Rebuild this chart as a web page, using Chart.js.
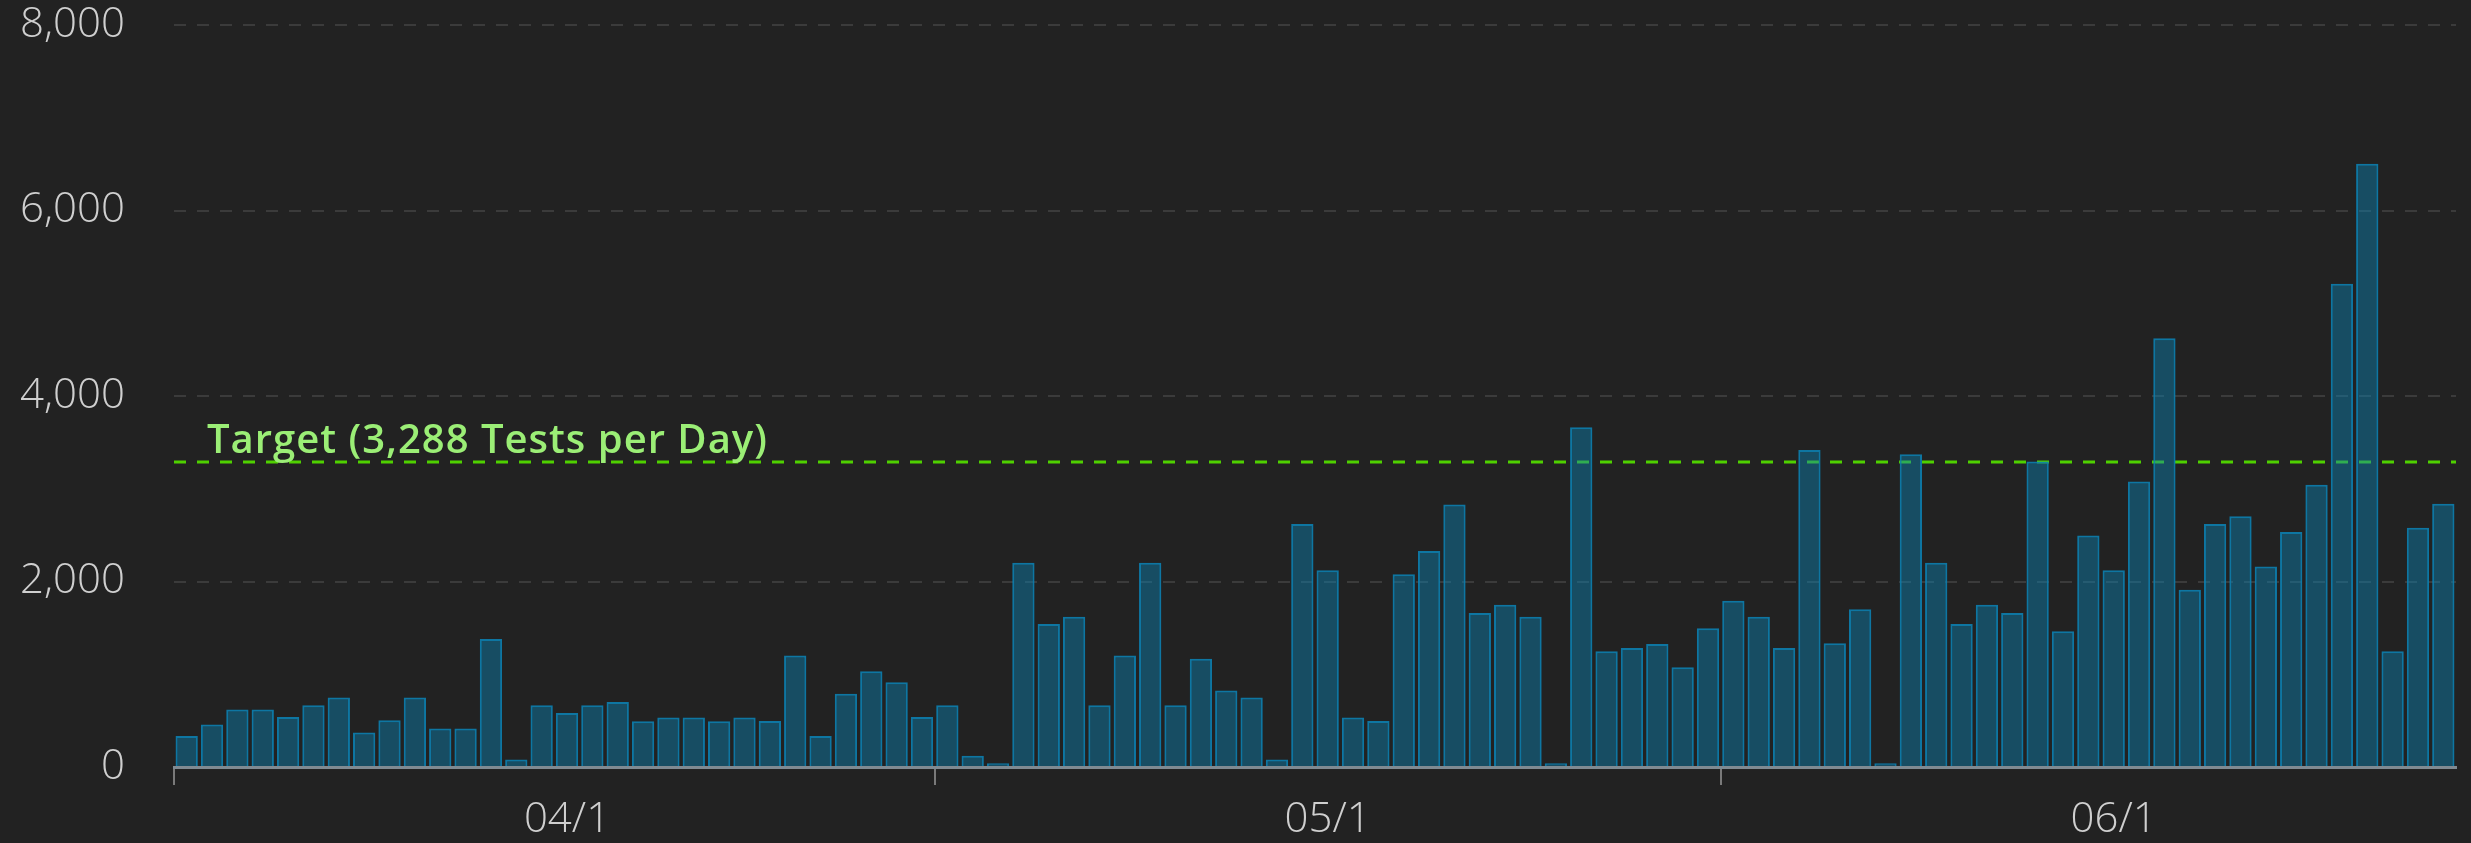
<!DOCTYPE html>
<html><head><meta charset="utf-8">
<script src="https://cdn.jsdelivr.net/npm/chart.js@4.4.0/dist/chart.umd.min.js"></script>
<style>html,body{margin:0;padding:0;background:#222222;overflow:hidden}canvas{display:block}</style>
</head><body>
<canvas id="c" width="2471" height="843"></canvas>
<script>
const dates = [
 '03/17','03/18','03/19','03/20','03/21','03/22','03/23','03/24','03/25','03/26','03/27','03/28','03/29','03/30','03/31',
 '04/01','04/02','04/03','04/04','04/05','04/06','04/07','04/08','04/09','04/10','04/11','04/12','04/13','04/14','04/15',
 '04/16','04/17','04/18','04/19','04/20','04/21','04/22','04/23','04/24','04/25','04/26','04/27','04/28','04/29','04/30',
 '05/01','05/02','05/03','05/04','05/05','05/06','05/07','05/08','05/09','05/10','05/11','05/12','05/13','05/14','05/15',
 '05/16','05/17','05/18','05/19','05/20','05/21','05/22','05/23','05/24','05/25','05/26','05/27','05/28','05/29','05/30','05/31',
 '06/01','06/02','06/03','06/04','06/05','06/06','06/07','06/08','06/09','06/10','06/11','06/12','06/13','06/14'
];
const testsPerDay = [
 333,458,619,619,540,665,748,372,504,748,415,415,1381,80,665,
 583,665,701,494,533,533,494,533,497,1202,333,791,1033,915,540,
 665,121,40,2203,1542,1620,665,1202,2203,665,1166,826,748,82,2621,
 2121,533,497,2078,2328,2829,1660,1749,1620,40,3662,1248,1284,1327,1076,
 1495,1792,1620,1284,3419,1334,1702,40,3373,2203,1542,1749,1660,3294,1463,2496,
 2121,3079,4622,1912,2621,2703,2161,2535,3042,5209,6505,1249,2580,2838
];
const targetValue = 3288;
const targetLabel = 'Target (3,288 Tests per Day)';
const monthTickDates = ['04/01','05/01','06/01'];
const monthTickLabels = ['04/1','05/1','06/1'];
const tickMarkDates = ['03/17','04/16','05/17'];
const yTickValues = [0,2000,4000,6000,8000];

const targetLabelPlugin = {
  id: 'targetLabel',
  afterDatasetsDraw(chart) {
    const {ctx, chartArea, scales} = chart;
    const y = scales.y.getPixelForValue(targetValue);
    ctx.save();
    ctx.font = '600 40px "Open Sans"';
    try { ctx.letterSpacing = '1px'; } catch (e) {}
    ctx.fillStyle = '#9bee76';
    ctx.textAlign = 'left';
    ctx.textBaseline = 'alphabetic';
    ctx.fillText(targetLabel, chartArea.left + 33, y - 9);
    ctx.restore();
  }
};

new Chart(document.getElementById('c'), {
  type: 'bar',
  data: {
    labels: dates,
    datasets: [
      {
        type: 'bar',
        xAxisID: 'x',
        data: testsPerDay,
        grouped: false,
        backgroundColor: 'rgba(10,130,180,0.45)',
        borderColor: 'rgba(12,128,176,0.9)',
        borderWidth: 2,
        barPercentage: 0.88,
        categoryPercentage: 1,
        order: 1
      },
      {
        type: 'line',
        xAxisID: 'xLine',
        data: [{x: -0.5, y: targetValue}, {x: dates.length - 0.5, y: targetValue}],
        borderColor: '#4fd000',
        borderWidth: 3,
        borderDash: [12, 11],
        pointRadius: 0,
        fill: false,
        order: 2
      }
    ]
  },
  options: {
    responsive: false,
    animation: false,
    events: [],
    layout: {padding: {top: 25, right: 15, bottom: 0, left: 0}},
    plugins: {legend: {display: false}, tooltip: {enabled: false}},
    scales: {
      x: {
        type: 'category',
        position: 'bottom',
        offset: true,
        grid: {
          display: true,
          offset: true,
          drawOnChartArea: false,
          drawTicks: true,
          tickLength: 18,
          lineWidth: 2,
          color: (ctx) => (ctx.index !== undefined && tickMarkDates.includes(dates[ctx.index])) ? '#7a7a7a' : 'rgba(0,0,0,0)'
        },
        border: {display: true, color: '#7f8a92', width: 3},
        ticks: {
          autoSkip: false,
          maxRotation: 0,
          minRotation: 0,
          padding: 14,
          color: '#cfcfcf',
          font: {family: '"Open Sans"', size: 42, weight: '300', lineHeight: 1},
          callback: (val, idx) => {
            const k = monthTickDates.indexOf(dates[idx]);
            return k >= 0 ? monthTickLabels[k] : '';
          }
        },
        afterFit: (scale) => { scale.height = 76; scale.paddingLeft = 0; scale.paddingRight = 0; }
      },
      xLine: {
        type: 'linear',
        position: 'bottom',
        display: true,
        offset: false,
        min: -0.5,
        max: dates.length - 0.5,
        grid: {display: false, drawTicks: false, offset: false},
        border: {display: false},
        ticks: {display: false},
        afterFit: (scale) => { scale.height = 0; scale.paddingLeft = 0; scale.paddingRight = 0; }
      },
      y: {
        min: 0,
        max: 8000,
        afterBuildTicks: (scale) => { scale.ticks = yTickValues.map(v => ({value: v})); },
        grid: {
          color: '#3b3b3b',
          lineWidth: 2,
          drawTicks: false
        },
        border: {display: false, dash: [12, 11]},
        ticks: {
          padding: 49,
          color: '#cfcfcf',
          font: {family: '"Open Sans"', size: 42, weight: '300', lineHeight: 1},
          callback: (v) => Number(v).toLocaleString('en-US')
        },
        afterFit: (scale) => { scale.width = 174; scale.paddingTop = 0; scale.paddingBottom = 0; }
      }
    }
  },
  plugins: [targetLabelPlugin]
});
</script>
</body></html>
